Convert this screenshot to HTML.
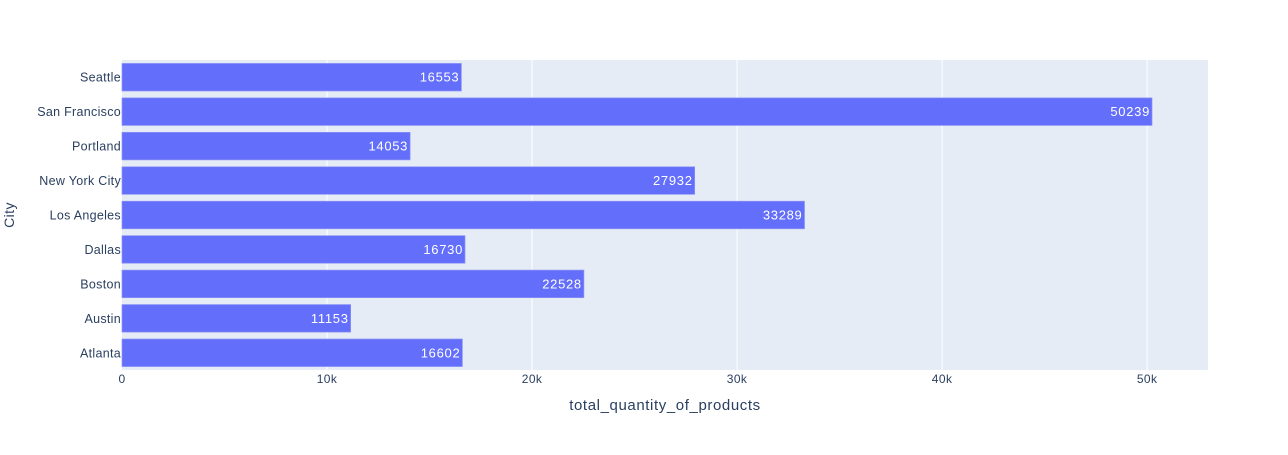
<!DOCTYPE html>
<html><head><meta charset="utf-8"><style>
body{margin:0;background:#fff;font-family:"Liberation Sans",Arial,sans-serif}
svg text{font-family:"Liberation Sans",Arial,sans-serif}
</style></head><body>
<svg id="chart" width="1288" height="450">
<rect x="122" y="60" width="1086" height="310" fill="#e5ecf6"/>
<g id="grid"></g><g id="bars"></g><g id="labels"></g>
<text x="665" y="410" text-anchor="middle" font-size="15" letter-spacing="0.6" fill="#2a3f5f">total_quantity_of_products</text>
<text transform="translate(14,215) rotate(-90)" text-anchor="middle" font-size="14" letter-spacing="0.4" fill="#2a3f5f">City</text>
</svg>
<script>
const categories=["Atlanta","Austin","Boston","Dallas","Los Angeles","New York City","Portland","San Francisco","Seattle"];
const values=[16602,11153,22528,16730,33289,27932,14053,50239,16553];
const xTicks=[0,10000,20000,30000,40000,50000];
const xTickLabels=["0","10k","20k","30k","40k","50k"];
const X0=122,X1=1208,Y0=60,Y1=370,XMAX=52970;
const ns="http://www.w3.org/2000/svg";
function xs(v){return X0+v/XMAX*(X1-X0);}
const band=(Y1-Y0)/categories.length;
function yc(i){return Y1-band*(i+0.5);}
function mk(t,a,p){const e=document.createElementNS(ns,t);for(const k in a)e.setAttribute(k,a[k]);p.appendChild(e);return e;}
const g=document.getElementById('grid'),b=document.getElementById('bars'),l=document.getElementById('labels');
xTicks.forEach((t,i)=>{
 if(i>0){const ln=mk('line',{x1:xs(t),x2:xs(t),y1:Y0,y2:Y1,stroke:'#fff','stroke-width':1},g);
 
 }
 const tx=mk('text',{x:xs(t),y:Y1+13,'text-anchor':'middle','font-size':12,'letter-spacing':0.4,fill:'#2a3f5f'},l);
 tx.textContent=xTickLabels[i];
 
 
});
categories.forEach((c,i)=>{
 const h=band*0.8,y=yc(i)-h/2,w=xs(values[i])-X0;
 const r=mk('rect',{x:X0,y:y,width:w,height:h,fill:'#636efa',stroke:'#8e95f6','stroke-width':0.7},b);
 
 
 const v=mk('text',{x:X0+w-2,y:yc(i)+4.5,'text-anchor':'end','font-size':13,'letter-spacing':0.7,fill:'#fff'},b);
 v.textContent=values[i];
 
 
 const t=mk('text',{x:X0-1,y:yc(i)+4.5,'text-anchor':'end','font-size':12.5,'letter-spacing':0.3,fill:'#2a3f5f'},l);
 t.textContent=c;
 
 
});
</script>
</body></html>
